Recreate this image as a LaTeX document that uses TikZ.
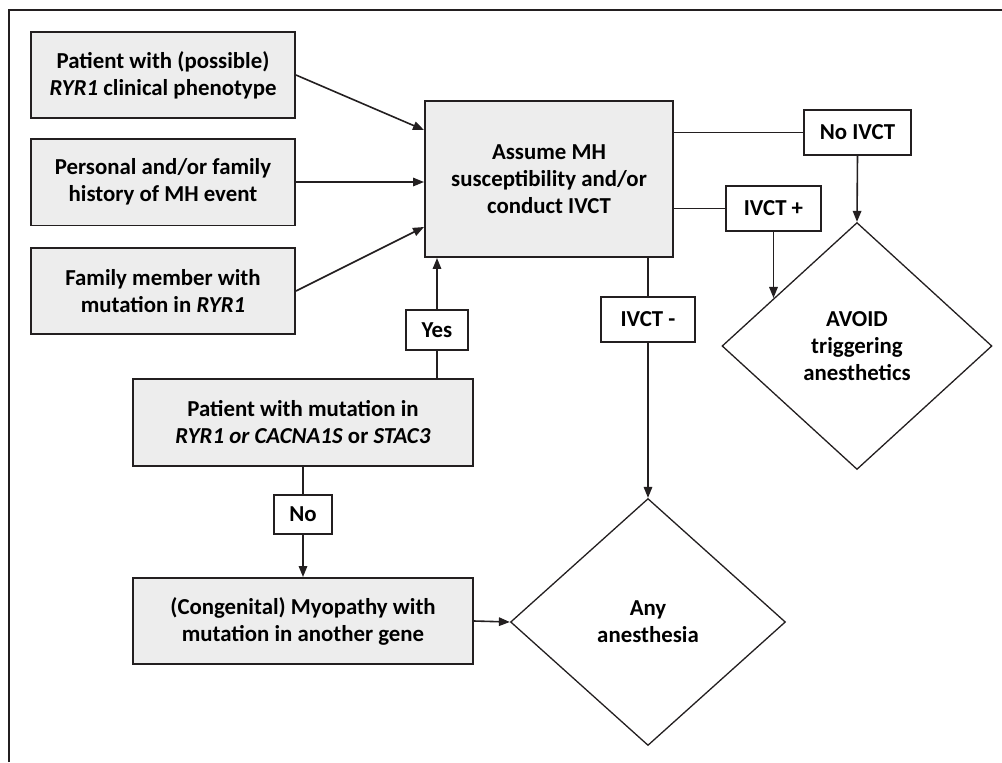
\documentclass[tikz,border=0pt]{standalone}
\usepackage{fontspec}
\setmainfont{Carlito}
\usetikzlibrary{shapes.geometric,arrows.meta}
\definecolor{inkgray}{HTML}{231F20}
\definecolor{boxgray}{HTML}{EDEDED}
\tikzset{
  greybox/.style={draw=inkgray, line width=0.04cm, fill=boxgray, align=center, inner sep=0pt},
  labelbox/.style={draw=inkgray, line width=0.035cm, fill=white, align=center, inner sep=0pt},
  choice/.style={draw=inkgray, line width=0.026cm, diamond, align=center, inner sep=0pt},
  link/.style={draw=inkgray, line width=0.032cm},
  arrowlink/.style={link, -{Triangle[length=0.22cm,width=0.17cm]}}
}
\begin{document}
\begin{tikzpicture}[x=0.02cm,y=-0.02cm]
                \useasboundingbox (0,0) rectangle (1002,762);
                {\fontsize{13}{15.4}\selectfont\bfseries

                % Drawing frame
                \draw [inkgray, line width=0.035cm] (9,762) -- (9,10) -- (1002,10);%

                % Drawing the three left boxes
                \node [greybox, minimum width=5.28cm, minimum height=1.72cm] (phenotype) at (163,75) {Patient with (possible)\\\textit{RYR1} clinical phenotype};%
                \node [greybox, minimum width=5.28cm, minimum height=1.74cm] (history) at (163,182) {Personal and/or family\\history of MH event};%
                \node [greybox, minimum width=5.28cm, minimum height=1.72cm] (member) at (163,291) {Family member with\\mutation in \textit{RYR1}};%

                % Drawing central box
                \node [greybox, minimum width=4.96cm, minimum height=3.12cm] (assume) at (549,179) {Assume MH\\susceptibility and/or\\conduct IVCT};%

                % Drawing mutation and myopathy boxes
                \node [greybox, minimum width=6.8cm, minimum height=1.74cm] (mutation) at (303,422.5) {Patient with mutation in\\\textit{RYR1 or CACNA1S} or \textit{STAC3}};%
                \node [greybox, minimum width=6.8cm, minimum height=1.72cm] (myopathy) at (303,621) {(Congenital) Myopathy with\\mutation in another gene};%

                % Drawing answer boxes
                \node [labelbox, minimum width=1.24cm, minimum height=0.8cm] (yes) at (437,330) {Yes};%
                \node [labelbox, minimum width=1.16cm, minimum height=0.78cm] (no) at (303,514.5) {No};%
                \node [labelbox, minimum width=1.88cm, minimum height=0.9cm] (ivctneg) at (648,319.5) {IVCT -};%
                \node [labelbox, minimum width=2.14cm, minimum height=0.9cm] (noivct) at (857.5,132.5) {No IVCT};%
                \node [labelbox, minimum width=1.9cm, minimum height=0.9cm] (ivctpos) at (773.5,208.5) {IVCT +};%

                % Drawing diamonds
                \node [choice, minimum width=5.5cm, minimum height=4.94cm] (anyanest) at (648,622) {Any\\anesthesia};%
                \node [choice, minimum width=5.4cm, minimum height=4.94cm] (avoid) at (857,346) {AVOID\\triggering\\anesthetics};%

                % Drawing arrows into central box
                \draw [arrowlink] (phenotype.east) -- ([yshift=0.98cm]assume.west);%
                \draw [arrowlink] (history.east) -- (history.east -| assume.west);%
                \draw [arrowlink] (member.east) -- ([yshift=-0.96cm]assume.west);%

                % Drawing yes / no branch
                \draw [link] (mutation.north -| yes.south) -- (yes.south);%
                \draw [arrowlink] (yes.north) -- (yes.north |- assume.south);%
                \draw [link] (mutation.south) -- (no.north);%
                \draw [arrowlink] (no.south) -- (myopathy.north);%
                \draw [arrowlink] (myopathy.east) -- (anyanest.west);%

                % Drawing IVCT branches
                \draw [link] (ivctneg.north |- assume.south) -- (ivctneg.north);%
                \draw [arrowlink] (ivctneg.south) -- (anyanest.north);%
                \draw [link] (noivct.west -| assume.east) -- (noivct.west);%
                \draw [arrowlink] (noivct.south) -- (avoid.north);%
                \draw [link] (ivctpos.west -| assume.east) -- (ivctpos.west);%
                \draw [arrowlink] (ivctpos.south) -- (ivctpos.south |- avoid.150);%
                }
\end{tikzpicture}
\end{document}
